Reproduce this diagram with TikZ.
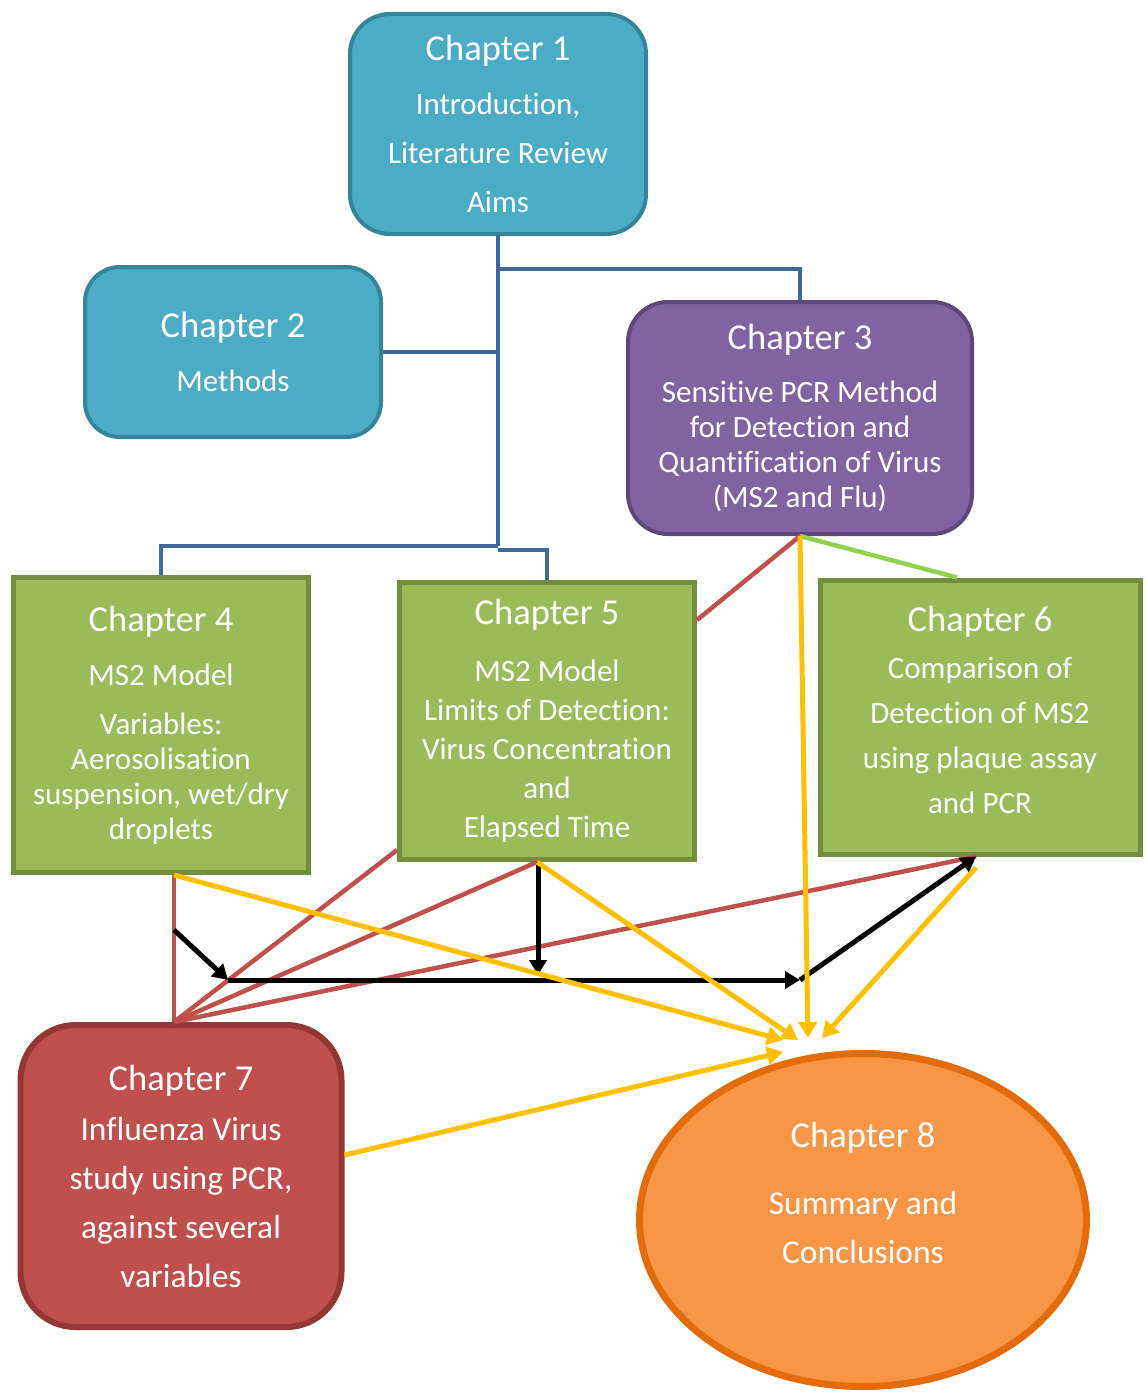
\documentclass[tikz,border=0pt]{standalone}
\usepackage{fontspec}
\setmainfont{Carlito}[Ligatures=NoCommon]
\usepackage{tikz}
\usetikzlibrary{shapes.geometric,arrows.meta}

\definecolor{tealfill}{HTML}{4BACC6}
\definecolor{tealline}{HTML}{34849A}
\definecolor{purpfill}{HTML}{8064A2}
\definecolor{purpline}{HTML}{5C4776}
\definecolor{greenfill}{HTML}{9BBB59}
\definecolor{greenline}{HTML}{738E3F}
\definecolor{redfill}{HTML}{C0504D}
\definecolor{redline}{HTML}{943634}
\definecolor{orangefill}{HTML}{F79646}
\definecolor{orangeline}{HTML}{E36C0A}
\definecolor{bluecon}{HTML}{41689C}
\definecolor{goldcon}{HTML}{FFC000}
\definecolor{limecon}{HTML}{92D050}

\newcommand{\chtitle}[1]{{\fontsize{36.5}{43}\selectfont #1}}

\begin{document}
\begin{tikzpicture}[x=1pt, y=-1pt,
    box/.style={draw, text=white, align=center, inner sep=0pt},
    bline/.style={draw=bluecon, line width=4pt},
    rline/.style={draw=redfill, line width=4.5pt},
    yarrow/.style={draw=goldcon, line width=5pt, -{Triangle[length=16pt,width=18pt]}},
    karrow/.style={draw=black, line width=5pt, -{Triangle[length=15pt,width=17pt]}}]
        \useasboundingbox (0,0) rectangle (1147,1394);

        \node[box, fill=tealfill, draw=tealline, line width=4pt, rounded corners=40pt, minimum width=296pt, minimum height=220pt, font=\fontsize{31}{49}\selectfont] (1) at (498,124) {\chtitle{Chapter 1}\\[5pt]Introduction,\\Literature Review\\Aims};
        \node[box, fill=tealfill, draw=tealline, line width=4pt, rounded corners=35pt, minimum width=296pt, minimum height=170pt, font=\fontsize{31}{54}\selectfont] (2) at (233,352) {\chtitle{Chapter 2}\\Methods};
        \node[box, fill=purpfill, draw=purpline, line width=4pt, rounded corners=40pt, minimum width=344pt, minimum height=232pt, font=\fontsize{31}{35}\selectfont] (3) at (800,418) {\chtitle{Chapter 3}\\[18pt]Sensitive PCR Method\\for Detection and\\Quantification of Virus\\(MS2 and Flu)};
        \node[box, fill=greenfill, draw=greenline, line width=5pt, minimum width=295pt, minimum height=295pt, font=\fontsize{31}{35}\selectfont] (4) at (161,725) {\chtitle{Chapter 4}\\[19pt]MS2 Model\\[14pt]Variables:\\Aerosolisation\\suspension, wet/dry\\droplets};
        \node[box, fill=greenfill, draw=greenline, line width=5pt, minimum width=295pt, minimum height=277pt, font=\fontsize{31}{39}\selectfont] (5) at (547,721) {\chtitle{Chapter 5}\\[18pt]MS2 Model\\Limits of Detection:\\Virus Concentration\\and\\Elapsed Time};
        \node[box, fill=greenfill, draw=greenline, line width=5pt, minimum width=320pt, minimum height=274pt, font=\fontsize{31}{45}\selectfont] (6) at (980,717) {\chtitle{Chapter 6}\\[2pt]Comparison of\\Detection of MS2\\using plaque assay\\and PCR\\[-31pt]\mbox{}};
        \node[box, fill=redfill, draw=redline, line width=6pt, rounded corners=55pt, minimum width=321pt, minimum height=302pt, font=\fontsize{33.5}{49}\selectfont] (7) at (181,1176) {\chtitle{Chapter 7}\\[1pt]Influenza Virus\\study using PCR,\\against several\\variables};
        \node[ellipse, fill=orangefill, draw=orangeline, line width=7pt, inner sep=0pt, minimum width=447pt, minimum height=333pt] (8) at (863,1220) {};
        \node[text=white, align=center, font=\fontsize{33.5}{49}\selectfont] (8t) at (863,1193) {\chtitle{Chapter 8}\\[18pt]Summary and\\Conclusions};

        % junctions
        \coordinate (9) at (498,269);
        \coordinate (10) at (498,352);
        \coordinate (11) at (498,546);
        \coordinate (12) at (498,550);
        \coordinate (13) at (174,930);
        \coordinate (14) at (228,980);
        \coordinate (15) at (800,980);
        \coordinate (16) at (538,975);

        \draw[bline] (1.south) -- (11);
        \draw[bline] (9) -| (3.north);
        \draw[bline] (2.east) -- (10);
        \draw[bline] (11) -| (4.north);
        \draw[bline] (12) -| (5.north);

        \draw[draw=limecon, line width=4.5pt] (3.south) -- ([xshift=-23pt]6.north);

        \draw[rline] (3.south) -- ([yshift=-40pt]5.north east);
        \draw[rline] ([xshift=13pt]4.south) -- ([xshift=-7pt]7.north);
        \draw[rline] ([yshift=12pt]5.south west) -- ([xshift=-7pt]7.north);
        \draw[rline] ([xshift=-10pt]5.south) -- ([xshift=-7pt]7.north);
        \draw[rline] ([xshift=-4pt]6.south) -- ([xshift=-7pt]7.north);

        \draw[karrow] (13) -- (14);
        \draw[karrow] (14) -- (15);
        \draw[karrow] ([xshift=-9pt]5.south) -- (16);
        \draw[karrow] (15) -- ([xshift=-4pt]6.south);

        \draw[yarrow] (3.south) -- ([xshift=-55pt,yshift=12pt]8.north);
        \draw[yarrow] ([xshift=13pt]4.south) -- ([xshift=-80pt,yshift=10pt]8.north);
        \draw[yarrow] ([xshift=-10pt]5.south) -- ([xshift=-65pt,yshift=10pt]8.north);
        \draw[yarrow] ([xshift=-4pt,yshift=-11pt]6.south) -- ([xshift=-41pt,yshift=12pt]8.north);
        \draw[yarrow] ([yshift=21pt]7.east) -- ([xshift=-80pt,yshift=-2pt]8.north);
    \end{tikzpicture}
\end{document}
